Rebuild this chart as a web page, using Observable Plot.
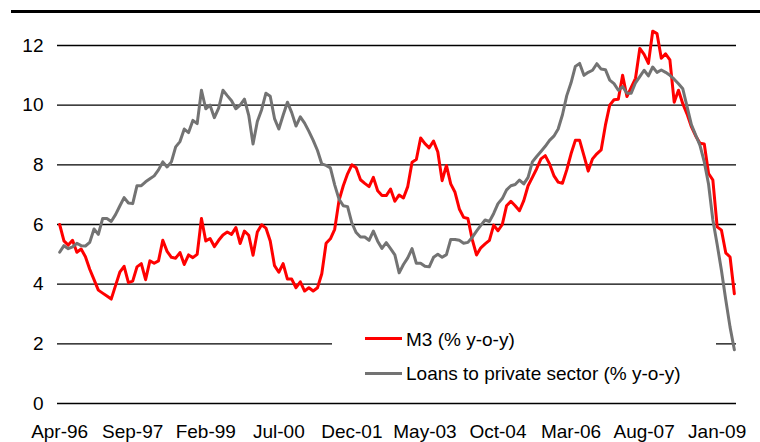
<!DOCTYPE html>
<html>
<head>
<meta charset="utf-8">
<script src="https://cdn.jsdelivr.net/npm/d3@7"></script>
<script src="https://cdn.jsdelivr.net/npm/@observablehq/plot@0.6"></script>
<style>
  body { margin: 0; background: #fff; }
  #wrap { position: relative; width: 760px; height: 442px; font-family: "Liberation Sans", Arial, sans-serif; }
  #wrap svg { position: absolute; left: 0; top: 0; }
  #topline { position: absolute; left: 11px; top: 10px; width: 749px; height: 3px; background: #000; }
  #legend { position: absolute; left: 332px; top: 312px; width: 384px; height: 82px; background: #fff; }
  .sw { position: absolute; left: 33px; width: 37px; height: 3px; }
  .lt { position: absolute; left: 74px; font-size: 19px; line-height: 19px; white-space: nowrap; color: #000; }
</style>
</head>
<body>
<div id="wrap"></div>
<script>
// Euro area: M3 and loans to private sector, % y-o-y, monthly Apr-96 .. May-09
const m3 = [6.0,5.45,5.31,5.47,5.07,5.18,4.92,4.5,4.15,3.8,
3.7,3.6,3.5,3.95,4.4,4.6,4.05,4.1,4.58,4.69,
4.15,4.78,4.7,4.78,5.47,5.1,4.9,4.87,5.06,4.66,
4.98,4.89,5.0,6.2,5.45,5.53,5.26,5.47,5.65,5.75,
5.67,5.9,5.36,5.78,5.64,4.97,5.75,5.99,5.88,5.45,
4.62,4.4,4.69,4.17,4.17,3.88,4.08,3.77,3.88,3.77,
3.88,4.35,5.37,5.52,5.84,6.8,7.3,7.7,8.0,7.9,
7.5,7.38,7.27,7.58,7.13,6.97,6.97,7.19,6.78,6.99,
6.89,7.27,8.09,8.18,8.9,8.71,8.57,8.8,8.43,7.47,
7.98,7.36,7.08,6.52,6.24,6.2,5.5,4.98,5.22,5.35,
5.47,5.98,5.79,6.0,6.63,6.78,6.63,6.46,6.8,7.3,
7.58,7.87,8.2,8.31,8.03,7.64,7.42,7.38,7.83,8.37,
8.82,8.82,8.31,7.79,8.2,8.37,8.5,9.33,10.0,10.18,
10.2,11.0,10.29,10.6,10.9,11.9,11.7,11.4,12.48,12.4,
11.57,11.72,11.52,10.1,10.5,10.05,9.7,9.28,8.97,8.72,
8.7,7.71,7.49,5.92,5.81,5.05,4.91,3.68];

const loans = [5.07,5.29,5.19,5.25,5.37,5.29,5.28,5.4,5.85,5.67,
6.2,6.2,6.1,6.33,6.62,6.9,6.72,6.7,7.3,7.3,
7.43,7.53,7.63,7.83,8.1,7.93,8.1,8.6,8.78,9.2,
9.08,9.49,9.38,10.5,9.88,10.0,9.58,9.9,10.5,10.32,
10.15,9.88,10.0,10.2,9.66,8.7,9.45,9.85,10.4,10.3,
9.55,9.2,9.66,10.1,9.75,9.3,9.61,9.4,9.12,8.82,
8.48,8.03,7.98,7.9,7.33,6.85,6.63,6.6,6.05,5.73,
5.58,5.58,5.47,5.78,5.44,5.2,5.39,5.19,4.98,4.38,
4.66,4.88,5.19,4.7,4.7,4.6,4.58,4.9,5.0,4.9,
4.99,5.5,5.5,5.47,5.37,5.4,5.57,5.78,5.97,6.15,
6.1,6.37,6.7,6.87,7.16,7.3,7.34,7.49,7.36,7.58,
8.1,8.28,8.45,8.62,8.82,8.96,9.2,9.68,10.32,10.75,
11.3,11.4,11.0,11.1,11.17,11.39,11.21,11.19,10.84,10.72,
10.5,10.62,10.4,10.4,10.75,10.96,11.17,10.98,11.28,11.1,
11.18,11.1,11.0,10.87,10.72,10.55,9.95,9.35,9.0,8.65,
8.1,7.35,6.15,5.33,4.46,3.48,2.56,1.8];

const xTickIndex = [0,17,34,51,68,85,102,119,136,153];
const xTickLabels = ["Apr-96","Sep-97","Feb-99","Jul-00","Dec-01","May-03","Oct-04","Mar-06","Aug-07","Jan-09"];
const yTicks = [0,2,4,6,8,10,12];
const seriesNames = ["M3 (% y-o-y)", "Loans to private sector (% y-o-y)"];
const seriesColors = ["#ff0000", "#737373"];

const data = m3.map((v, i) => ({i, m3: v, loans: loans[i]}));

const chart = Plot.plot({
  width: 760,
  height: 442,
  marginLeft: 57,
  marginRight: 24,
  marginTop: 45,
  marginBottom: 39,
  style: {fontSize: "19px", fontFamily: "'Liberation Sans', Arial, sans-serif", color: "#000", background: "transparent"},
  x: {type: "linear", domain: [-0.5, m3.length - 0.5], ticks: xTickIndex,
      tickFormat: d => xTickLabels[xTickIndex.indexOf(d)], tickSize: 0, tickPadding: 21, label: null},
  y: {domain: [0, 12], ticks: yTicks, tickSize: 0, tickPadding: 14, label: null},
  marks: [
    Plot.ruleY(yTicks, {stroke: "#000", strokeWidth: 1.4}),
    Plot.lineY(data, {x: "i", y: "m3", stroke: seriesColors[0], strokeWidth: 3}),
    Plot.lineY(data, {x: "i", y: "loans", stroke: seriesColors[1], strokeWidth: 3})
  ]
});

const wrapEl = document.getElementById("wrap");
wrapEl.appendChild(chart);

const topLineEl = document.createElement("div");
topLineEl.id = "topline";
wrapEl.appendChild(topLineEl);

const legendEl = document.createElement("div");
legendEl.id = "legend";
const swTops = [24.5, 59.5];
const txtTops = [18, 52];
seriesNames.forEach((name, k) => {
  const sw = document.createElement("div");
  sw.className = "sw";
  sw.style.top = swTops[k] + "px";
  sw.style.background = seriesColors[k];
  legendEl.appendChild(sw);
  const t = document.createElement("div");
  t.className = "lt";
  t.style.top = txtTops[k] + "px";
  t.textContent = name;
  legendEl.appendChild(t);
});
wrapEl.appendChild(legendEl);
</script>
</body>
</html>
